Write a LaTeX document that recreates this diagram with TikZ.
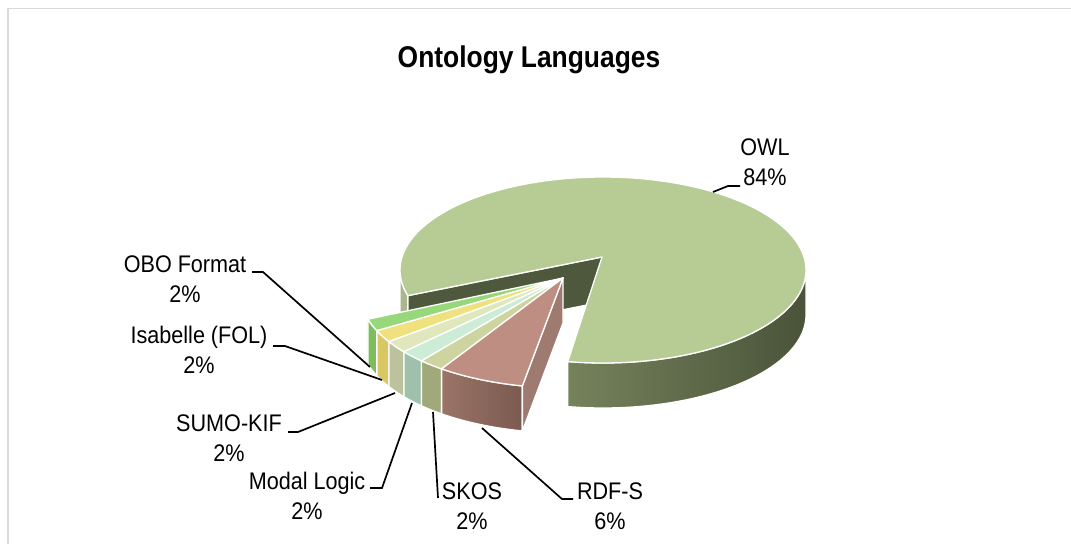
\documentclass[tikz,border=0pt]{standalone}
\usepackage{fontspec}
\setmainfont{Liberation Sans}
\newfontfamily\labfont[FakeStretch=0.9]{Liberation Sans}
\newfontfamily\titfont[FakeStretch=0.88]{Liberation Sans}
\definecolor{framegray}{HTML}{D9D9D9}
\definecolor{owltop}{HTML}{B7CB95}
\definecolor{owlsideL}{HTML}{76825C}
\definecolor{owlsideM}{HTML}{4C553B}
\definecolor{owlsideR}{HTML}{4A5339}
\definecolor{owlcut}{HTML}{4E583C}
\definecolor{owlleft}{HTML}{A9B68E}
\definecolor{obotop}{HTML}{97D87A}
\definecolor{oboside}{HTML}{7CBE5C}
\definecolor{isatop}{HTML}{EFE27E}
\definecolor{isaside}{HTML}{D8C763}
\definecolor{sumotop}{HTML}{E1E7BD}
\definecolor{sumoside}{HTML}{BDC29E}
\definecolor{modtop}{HTML}{CDECD6}
\definecolor{modside}{HTML}{9FC0AB}
\definecolor{skostop}{HTML}{CDD49F}
\definecolor{skosside}{HTML}{A1A87A}
\definecolor{rdftop}{HTML}{BF8E82}
\definecolor{rdfsideL}{HTML}{9A7467}
\definecolor{rdfsideR}{HTML}{7B5A50}
\definecolor{rdfcut}{HTML}{9E7A70}
\tikzset{
  face/.style={draw=white, line width=1.3pt, line join=round},
  leader/.style={draw=black, line width=1.7pt},
  lab/.style={align=center, inner sep=0pt, font=\labfont\fontsize{24}{30}\selectfont},
  frameline/.style={draw=framegray, line width=1.5pt},
  declare function={
    ox(\a)=603+203*cos(\a); oy(\a)=270-93*sin(\a); oyb(\a)=315-93*sin(\a);
    ex(\a)=565+205*cos(\a); ey(\a)=293-95*sin(\a); eyb(\a)=338-95*sin(\a);
  }
}
\begin{document}
\begin{tikzpicture}[x=1pt,y=-1pt]
\useasboundingbox (0,0) rectangle (1071,544);
\fill[white] (0,0) rectangle (1071,544);
\draw[frameline] (8,544) -- (8,8.5) -- (1071,8.5);

\node[font=\titfont\bfseries\fontsize{30}{34}\selectfont, inner sep=0pt] (title) at (529,59.5) {Ontology Languages};

\coordinate (oapex) at (602,257);
\coordinate (oapexb) at (602,302);
\coordinate (eapex) at (563,278);
\coordinate (eapexb) at (563,323);

% ---- OWL slice ----
\path[face, left color=owlsideL, middle color=owlsideM, right color=owlsideR]
  plot[domain=260:360,samples=60] ({ox(\x)},{oy(\x)}) -- plot[domain=360:260,samples=60] ({ox(\x)},{oyb(\x)}) -- cycle;
\path[face, fill=owlleft]
  plot[domain=180:196,samples=10] ({ox(\x)},{oy(\x)}) -- plot[domain=196:180,samples=10] ({ox(\x)},{oyb(\x)}) -- cycle;
\path[face, fill=owlcut] (oapex) -- ({ox(196)},{oy(196)}) -- ({ox(196)},{oyb(196)}) -- (oapexb) -- cycle;
\path[face, fill=owltop] (oapex) -- plot[domain=260:556,samples=150] ({ox(\x)},{oy(\x)}) -- cycle;

% ---- exploded slices: sides ----
\foreach \a/\b/\c in {196/203.4/oboside, 203.4/210.8/isaside, 210.8/218.2/sumoside, 218.2/225.6/modside, 225.6/233/skosside}{
  \path[face, fill=\c] plot[domain=\a:\b,samples=10] ({ex(\x)},{ey(\x)}) -- plot[domain=\b:\a,samples=10] ({ex(\x)},{eyb(\x)}) -- cycle;
}
\path[face, left color=rdfsideL, right color=rdfsideR]
  plot[domain=233:258,samples=25] ({ex(\x)},{ey(\x)}) -- plot[domain=258:233,samples=25] ({ex(\x)},{eyb(\x)}) -- cycle;
\path[face, fill=rdfcut] (eapex) -- ({ex(258)},{ey(258)}) -- ({ex(258)},{eyb(258)}) -- (eapexb) -- cycle;
% ---- exploded slices: tops ----
\foreach \a/\b/\c in {196/203.4/obotop, 203.4/210.8/isatop, 210.8/218.2/sumotop, 218.2/225.6/modtop, 225.6/233/skostop, 233/258/rdftop}{
  \path[face, fill=\c] (eapex) -- plot[domain=\a:\b,samples=20] ({ex(\x)},{ey(\x)}) -- cycle;
}

% ---- labels ----
\node[lab] (owl) at (765,162) {OWL\\84\%};
\node[lab] (obo) at (185,279) {OBO Format\\2\%};
\node[lab] (isa) at (199,350) {Isabelle (FOL)\\2\%};
\node[lab] (sumo) at (229,438) {SUMO-KIF\\2\%};
\node[lab] (modal) at (307,496) {Modal Logic\\2\%};
\node[lab] (skos) at (472,506) {SKOS\\2\%};
\node[lab] (rdfs) at (610,506) {RDF-S\\6\%};

% ---- leader lines ----
\coordinate (owl-s) at (740,186); \coordinate (owl-k) at (728,186); \coordinate (owl-e) at (713,192);
\coordinate (obo-s) at (252,272); \coordinate (obo-k) at (263,272); \coordinate (obo-e) at (370,367);
\coordinate (isa-s) at (273,346); \coordinate (isa-k) at (285,346); \coordinate (isa-e) at (382,380);
\coordinate (sumo-s) at (288,432); \coordinate (sumo-k) at (298,432); \coordinate (sumo-e) at (395,393);
\coordinate (modal-s) at (370,488); \coordinate (modal-k) at (382,488); \coordinate (modal-e) at (412,403);
\coordinate (skos-s) at (438,498); \coordinate (skos-e) at (433,412);
\coordinate (rdfs-s) at (573,499); \coordinate (rdfs-k) at (562,499); \coordinate (rdfs-e) at (482,428);
\draw[leader] (owl-s) -- (owl-k) -- (owl-e);
\draw[leader] (obo-s) -- (obo-k) -- (obo-e);
\draw[leader] (isa-s) -- (isa-k) -- (isa-e);
\draw[leader] (sumo-s) -- (sumo-k) -- (sumo-e);
\draw[leader] (modal-s) -- (modal-k) -- (modal-e);
\draw[leader] (skos-s) -- (skos-e);
\draw[leader] (rdfs-s) -- (rdfs-k) -- (rdfs-e);
\end{tikzpicture}
\end{document}
